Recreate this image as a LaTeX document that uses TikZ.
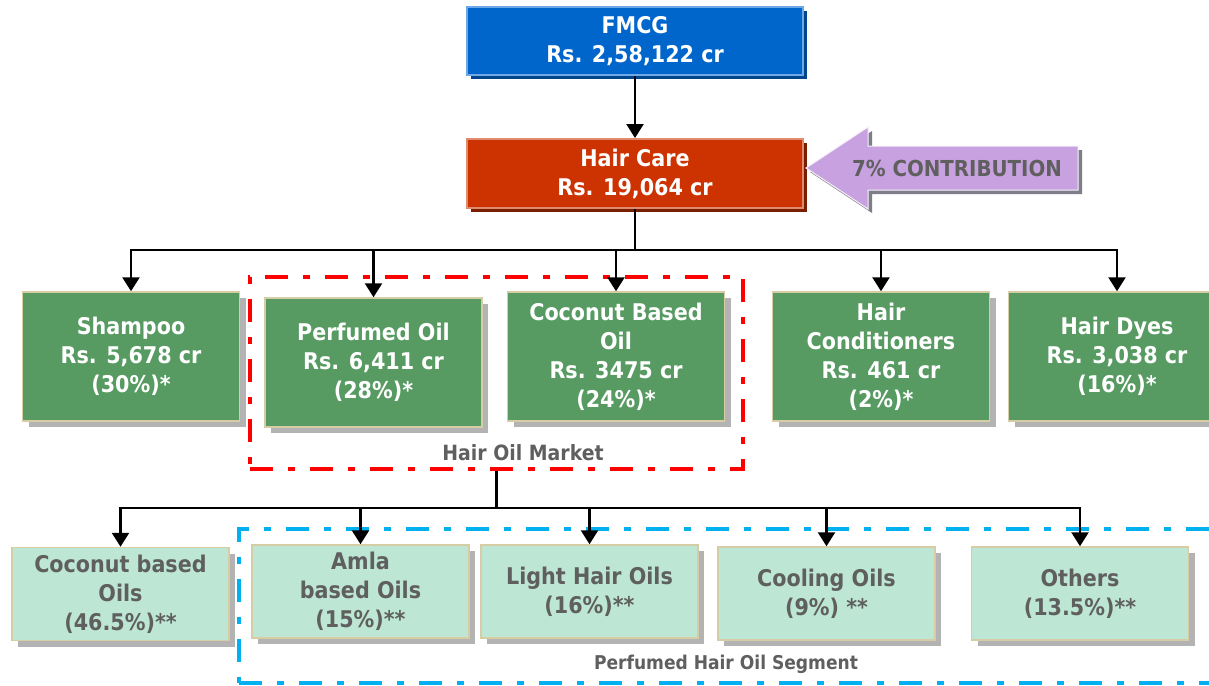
\documentclass[tikz,border=0pt]{standalone}
\usepackage{fontspec}
\setmainfont{DejaVu Sans Condensed}
\usetikzlibrary{arrows.meta,shadows}
\definecolor{fmcgblue}{HTML}{0066CC}
\definecolor{fmcgshadow}{HTML}{00468C}
\definecolor{fmcgedge}{HTML}{6FA8E6}
\definecolor{hairred}{HTML}{CC3300}
\definecolor{hairshadow}{HTML}{7A1E00}
\definecolor{hairedge}{HTML}{E08A70}
\definecolor{catgreen}{HTML}{579B63}
\definecolor{boxedge}{HTML}{D6CDA4}
\definecolor{shadowgray}{HTML}{B3B3B3}
\definecolor{subgreen}{HTML}{BDE6D4}
\definecolor{textgray}{HTML}{5F5F5F}
\definecolor{contribpurple}{HTML}{C8A2E0}
\definecolor{contribshadow}{HTML}{7E7E88}
\definecolor{mktred}{HTML}{FF0000}
\definecolor{segblue}{HTML}{00B0F0}
\begin{document}
\begin{tikzpicture}[x=1pt,y=-1pt,
  basebox/.style={rectangle, align=center, inner sep=0pt,
    font=\bfseries\fontsize{23}{29}\selectfont},
  topbox/.style={basebox, minimum width=336pt, minimum height=68pt, text=white, line width=2pt},
  catbox/.style={basebox, fill=catgreen, draw=boxedge, line width=1.5pt, text=white,
    minimum width=217pt, minimum height=129pt,
    drop shadow={shadow xshift=6pt, shadow yshift=-6pt, fill=shadowgray, opacity=1}},
  subbox/.style={basebox, fill=subgreen, draw=boxedge, line width=1.5pt, text=textgray,
    minimum width=217pt, minimum height=93pt,
    drop shadow={shadow xshift=6pt, shadow yshift=-6pt, fill=shadowgray, opacity=1}},
  groupbox/.style={rectangle, line width=4pt, inner sep=0pt,
    dash pattern=on 23pt off 15pt on 7pt off 15pt},
  grouplabel/.style={text=textgray, font=\bfseries\fontsize{21}{25}\selectfont, inner sep=0pt},
  link/.style={draw=black, line width=2.5pt},
  arrow/.style={link, -{Triangle[width=17pt,length=14pt]}}
]
\useasboundingbox (0,0) rectangle (1209,685);
\fill[white] (0,0) rectangle (1209,685);

% top boxes
\node[topbox, fill=fmcgblue, draw=fmcgedge,
  drop shadow={shadow xshift=4pt, shadow yshift=-4pt, fill=fmcgshadow, opacity=1}]
  (fmcg) at (635,41) {FMCG\\Rs. 2,58,122 cr};
\node[topbox, fill=hairred, draw=hairedge, minimum height=69pt,
  drop shadow={shadow xshift=4pt, shadow yshift=-4pt, fill=hairshadow, opacity=1}]
  (hair) at (635,173.5) {Hair Care\\Rs. 19,064 cr};

% contribution arrow
\fill[contribshadow] (810,172) -- (872,131) -- (872,150) -- (1082,150) -- (1082,194)
  -- (872,194) -- (872,213) -- cycle;
\filldraw[fill=contribpurple, draw=white!85!contribpurple, line width=1pt]
  (806,168) -- (868,127) -- (868,146) -- (1078,146) -- (1078,190)
  -- (868,190) -- (868,209) -- cycle;
\node[text=textgray, font=\bfseries\fontsize{22}{26}\selectfont, inner sep=0pt]
  (contrib) at (957,168) {7\% CONTRIBUTION};

% group frames
\node[groupbox, draw=mktred, minimum width=493pt, minimum height=192pt]
  (oilmkt) at (496.5,373) {};
\node[grouplabel] (oilmktlabel) at (523,453) {Hair Oil Market};
\node[groupbox, draw=segblue, minimum width=978pt, minimum height=154pt]
  (perfseg) at (728,606) {};
\node[grouplabel, font=\bfseries\fontsize{19}{23}\selectfont] (perfseglabel) at (726,664) {Perfumed Hair Oil Segment};

% category boxes
\node[catbox] (shampoo) at (131,356.5) {Shampoo\\Rs. 5,678 cr\\(30\%)*};
\node[catbox] (perfumed) at (373.5,362.5) {Perfumed Oil\\Rs. 6,411 cr\\(28\%)*};
\node[catbox] (coconut) at (616,356.5) {Coconut Based\\Oil\\Rs. 3475 cr\\(24\%)*};
\node[catbox] (cond) at (881,356.5) {Hair\\Conditioners\\Rs. 461 cr\\(2\%)*};
\node[catbox] (dyes) at (1117,356.5) {Hair Dyes\\Rs. 3,038 cr\\(16\%)*};

% sub boxes
\node[subbox] (cocooils) at (120.5,594) {Coconut based\\Oils\\(46.5\%)**};
\node[subbox] (amla) at (360.5,591.5) {Amla\\based Oils\\(15\%)**};
\node[subbox] (light) at (589.5,591.5) {Light Hair Oils\\(16\%)**};
\node[subbox] (cooling) at (826.5,593.5) {Cooling Oils\\(9\%) **};
\node[subbox] (others) at (1080,593.5) {Others\\(13.5\%)**};

% connectors
\draw[arrow] (fmcg.south) -- (hair.north);
\coordinate (hub1) at (635,250);
\draw[link] (hair.south) -- (hub1);
\foreach \t in {shampoo,perfumed,coconut,cond,dyes}
  \draw[arrow] (hub1) -| (\t.north);
\coordinate (hub2) at (496.5,508);
\draw[link] (oilmkt.south) -- (hub2);
\foreach \t in {cocooils,amla,light,cooling,others}
  \draw[arrow] (hub2) -| (\t.north);
\end{tikzpicture}
\end{document}
